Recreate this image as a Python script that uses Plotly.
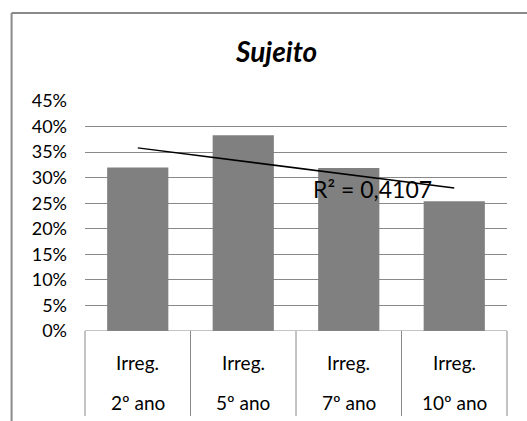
import numpy as np
import plotly.graph_objects as go

# data
top_labels = ["Irreg.", "Irreg.", "Irreg.", "Irreg."]
bottom_labels = ["2º ano", "5º ano", "7º ano", "10º ano"]
values = [0.320, 0.383, 0.319, 0.254]
title_text = "Sujeito"
r2_text = "R² = 0,4107"
y_ticks = [0, 0.05, 0.10, 0.15, 0.20, 0.25, 0.30, 0.35, 0.40, 0.45]

xs = np.arange(1, len(values) + 1)
slope, intercept = np.polyfit(xs, values, 1)
trend = slope * xs + intercept

FONT = "Lato, 'Open Sans', sans-serif"
GRID = "#888888"

fig = go.Figure()
fig.add_trace(go.Bar(x=xs, y=values, width=0.58, marker=dict(color="#808080", line=dict(width=0)),
                     showlegend=False, hoverinfo="skip"))
fig.add_trace(go.Scatter(x=[xs[0], xs[-1]], y=[trend[0], trend[-1]], mode="lines",
                         line=dict(color="black", width=1.5), showlegend=False, hoverinfo="skip"))

L, R, T, B = 84.5, 507, 101, 331
W, H = 527, 421
pw, ph = R - L, B - T

def px(xp):
    return (xp - L) / pw

def py(yp):
    return (B - yp) / ph

shapes = []
# outer frame (left and top edges visible in the crop)
shapes.append(dict(type="line", xref="paper", yref="paper", x0=px(11), x1=px(11), y0=py(425), y1=py(13),
                   line=dict(color="#8a8a8a", width=2)))
shapes.append(dict(type="line", xref="paper", yref="paper", x0=px(11), x1=px(530), y0=py(13), y1=py(13),
                   line=dict(color="#8a8a8a", width=2)))
# category separators
n = len(values)
for i in range(n + 1):
    shapes.append(dict(type="line", xref="paper", yref="paper", x0=i / n, x1=i / n, y0=0, y1=py(416),
                       line=dict(color=GRID, width=1)))

annotations = []
for i in range(n):
    annotations.append(dict(xref="paper", yref="paper", x=(i + 0.5) / n, y=py(362), text=top_labels[i],
                            showarrow=False, font=dict(family=FONT, size=19, color="black"),
                            xanchor="center", yanchor="middle"))
    annotations.append(dict(xref="paper", yref="paper", x=(i + 0.5) / n, y=py(402), text=bottom_labels[i],
                            showarrow=False, font=dict(family=FONT, size=19, color="black"),
                            xanchor="center", yanchor="middle"))
annotations.append(dict(xref="paper", yref="paper", x=px(372), y=py(189), text=r2_text, showarrow=False,
                        font=dict(family=FONT, size=23, color="black"), xanchor="center", yanchor="middle"))
annotations.append(dict(xref="paper", yref="paper", x=px(276), y=py(51), text="<b><i>" + title_text + "</i></b>",
                        showarrow=False, font=dict(family=FONT, size=28, color="black"),
                        xanchor="center", yanchor="middle"))

fig.update_layout(
    width=W, height=H,
    margin=dict(l=L, r=W - R, t=T, b=H - B, pad=0),
    paper_bgcolor="white", plot_bgcolor="white",
    shapes=shapes, annotations=annotations,
    xaxis=dict(range=[0.5, n + 0.5], showticklabels=False, showgrid=False, zeroline=False,
               showline=False, ticks=""),
    yaxis=dict(range=[0, 0.45], tickvals=y_ticks, tickformat=".0%", showgrid=True, gridcolor=GRID,
               gridwidth=1, zeroline=False, showline=False, ticks="", ticklabelstandoff=17,
               tickfont=dict(family=FONT, size=18, color="black")),
    bargap=0.42,
)
fig.add_hline(y=0, line=dict(color=GRID, width=1))
fig.write_html("out.html", config={"displayModeBar": False},
               post_script="document.body.style.margin='0';document.body.style.overflow='hidden';")
